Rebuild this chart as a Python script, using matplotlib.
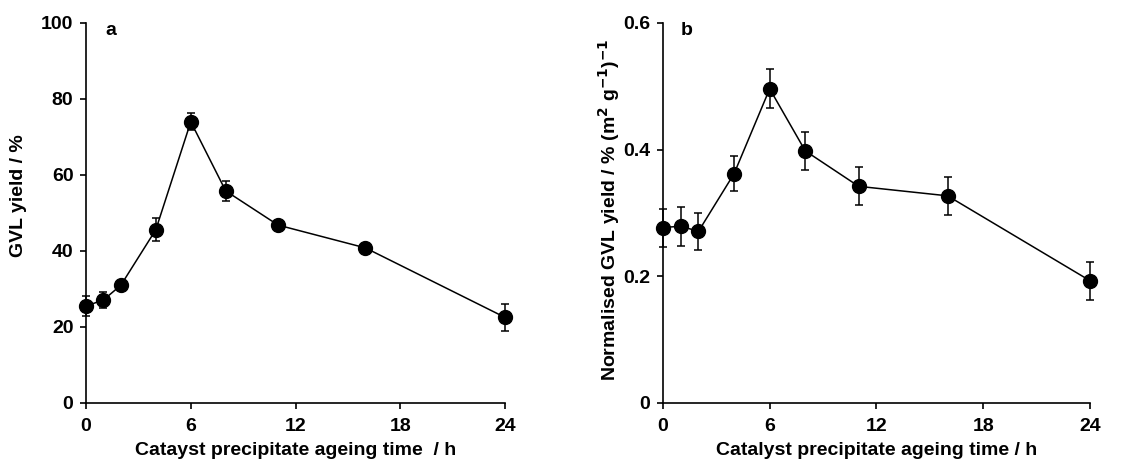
import matplotlib
matplotlib.use("Agg")
import matplotlib.pyplot as plt

plt.rcParams['font.family'] = ['Liberation Sans', 'DejaVu Sans']
plt.rcParams['font.weight'] = 'bold'

# Ageing time (h)
ageing_time = [0, 1, 2, 4, 6, 8, 11, 16, 24]

# Panel a: GVL yield (%)
gvl_yield = [25.5, 27.1, 31.0, 45.6, 74.0, 55.8, 46.8, 40.8, 22.5]
gvl_yield_err = [2.7, 2.0, 1.0, 3.0, 2.3, 2.7, 0.8, 0.8, 3.5]

# Panel b: normalised GVL yield (% (m2 g-1)-1)
norm_yield = [0.277, 0.279, 0.271, 0.362, 0.496, 0.398, 0.342, 0.327, 0.193]
norm_yield_err = [0.030, 0.031, 0.029, 0.028, 0.031, 0.030, 0.030, 0.030, 0.030]

x_ticks = [0, 6, 12, 18, 24]

fig = plt.figure(figsize=(11.39, 4.68), dpi=100)
ax_a = fig.add_axes([0.0755, 0.139, 0.368, 0.812])
ax_b = fig.add_axes([0.582, 0.139, 0.375, 0.812])


def style(ax, ylim, yticks, ylabel, xlabel, tag, yfmt, ylab_pos, tag_x):
    ax.set_xlim(0, 24)
    ax.set_ylim(*ylim)
    ax.set_xticks(x_ticks)
    ax.set_yticks(yticks)
    ax.set_yticklabels([yfmt(v) for v in yticks])
    for s in ('top', 'right'):
        ax.spines[s].set_visible(False)
    for s in ('left', 'bottom'):
        ax.spines[s].set_linewidth(1.2)
    ax.tick_params(direction='out', length=4, width=1.2, labelsize=14)
    ax.tick_params(axis='x', pad=7)
    ax.tick_params(axis='y', pad=5)
    for lab in ax.get_xticklabels() + ax.get_yticklabels():
        lab.set_fontweight('bold')
    ax.set_xlabel(xlabel, fontsize=14, fontweight='bold', labelpad=5)
    ax.set_ylabel(ylabel, fontsize=14, fontweight='bold')
    ax.yaxis.label.set_verticalalignment('center')
    ax.yaxis.set_label_coords(*ylab_pos)
    ax.text(tag_x, 0.969, tag, transform=ax.transAxes, fontsize=14,
            fontweight='bold', va='baseline', ha='left')


ax_a.errorbar(ageing_time, gvl_yield, yerr=gvl_yield_err, color='black',
              marker='o', markersize=10, linewidth=1.1, elinewidth=1.1,
              capsize=3, capthick=1.1, clip_on=False, zorder=3)
style(ax_a, (0, 100), [0, 20, 40, 60, 80, 100], 'GVL yield / %',
      'Catayst precipitate ageing time  / h', 'a', lambda v: f'{v:g}',
      (-0.160, 0.546), 0.046)

ax_b.errorbar(ageing_time, norm_yield, yerr=norm_yield_err, color='black',
              marker='o', markersize=10, linewidth=1.1, elinewidth=1.1,
              capsize=3, capthick=1.1, clip_on=False, zorder=3)
style(ax_b, (0, 0.6), [0, 0.2, 0.4, 0.6],
      'Normalised GVL yield / % (m$^{\\mathbf{2}}$ g$^{\\mathbf{-1}}$)$^{\\mathbf{-1}}$',
      'Catalyst precipitate ageing time / h', 'b',
      lambda v: '0' if v == 0 else f'{v:.1f}',
      (-0.127, 0.507), 0.041)

fig.savefig('out.png', dpi=100)
